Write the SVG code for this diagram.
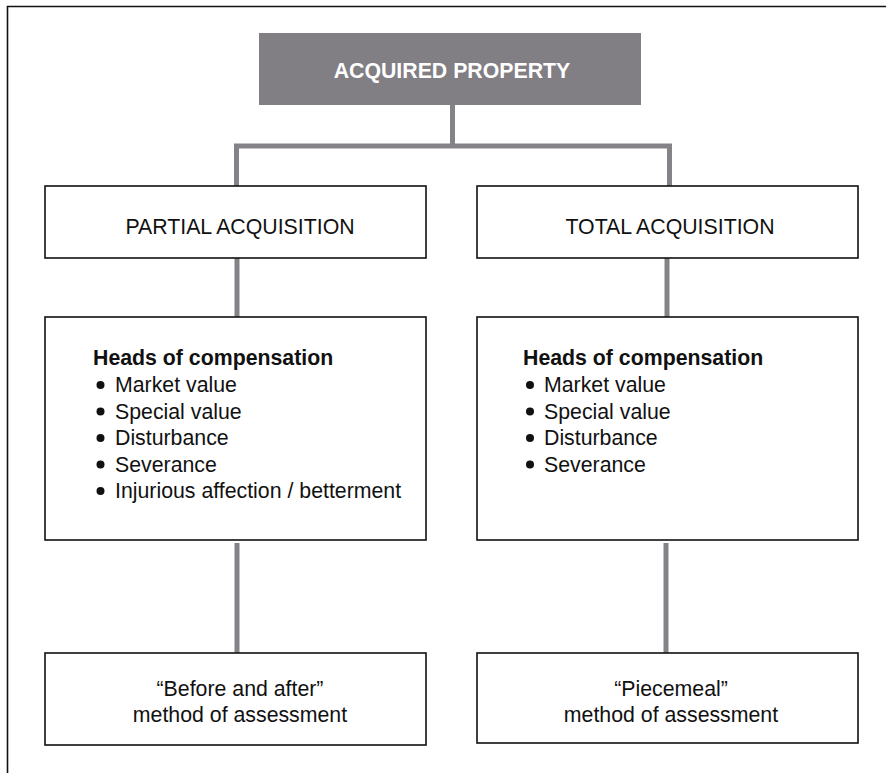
<svg xmlns="http://www.w3.org/2000/svg" width="886" height="773" viewBox="0 0 886 773">
<style>
.box{fill:#fff;stroke:#111;stroke-width:1.6}
.conn{stroke:#858388;stroke-width:5;fill:none}
.t{font-family:"Liberation Sans",Arial,sans-serif;font-size:21.3px;fill:#111}
.c{text-anchor:middle}
.b{font-weight:bold}
.dot{fill:#111}
</style>
<rect width="886" height="773" fill="#fff"/>
<path d="M7.5 773 V6.5 H886" fill="none" stroke="#111" stroke-width="1.6"/>
<g id="connectors">
<path class="conn" d="M452.5 105 V146 M236.5 146 H669.5 M236.5 143.5 V186 M669.5 143.5 V186"/>
<path class="conn" d="M237 258 V317 M667 258 V317"/>
<path class="conn" d="M237 543 V653 M666 543 V653"/>
</g>
<g id="acquired">
<rect x="259" y="33" width="382" height="72" fill="#817e84"/>
<text class="t b c" x="452" y="78" style="fill:#fff">ACQUIRED PROPERTY</text>
</g>
<g id="partial">
<rect class="box" x="45" y="186" width="381" height="72"/>
<text class="t c" x="240" y="234">PARTIAL ACQUISITION</text>
</g>
<g id="total">
<rect class="box" x="477" y="186" width="381" height="72"/>
<text class="t c" x="670" y="234">TOTAL ACQUISITION</text>
</g>
<g id="heads-partial">
<rect class="box" x="45" y="317" width="381" height="223"/>
<text class="t b" x="93" y="365">Heads of compensation</text>
<circle class="dot" cx="100.5" cy="385" r="4"/><text class="t" x="115" y="392">Market value</text>
<circle class="dot" cx="100.5" cy="411.5" r="4"/><text class="t" x="115" y="418.5">Special value</text>
<circle class="dot" cx="100.5" cy="438" r="4"/><text class="t" x="115" y="445">Disturbance</text>
<circle class="dot" cx="100.5" cy="464.5" r="4"/><text class="t" x="115" y="471.5">Severance</text>
<circle class="dot" cx="100.5" cy="491" r="4"/><text class="t" x="115" y="498">Injurious affection / betterment</text>
</g>
<g id="heads-total">
<rect class="box" x="477" y="317" width="381" height="223"/>
<text class="t b" x="523" y="365">Heads of compensation</text>
<circle class="dot" cx="530" cy="385" r="4"/><text class="t" x="544" y="392">Market value</text>
<circle class="dot" cx="530" cy="411.5" r="4"/><text class="t" x="544" y="418.5">Special value</text>
<circle class="dot" cx="530" cy="438" r="4"/><text class="t" x="544" y="445">Disturbance</text>
<circle class="dot" cx="530" cy="464.5" r="4"/><text class="t" x="544" y="471.5">Severance</text>
</g>
<g id="before-after">
<rect class="box" x="45" y="653" width="381" height="92"/>
<text class="t c" x="240" y="696">“Before and after”</text>
<text class="t c" x="240" y="722">method of assessment</text>
</g>
<g id="piecemeal">
<rect class="box" x="477" y="653" width="381" height="90"/>
<text class="t c" x="671" y="696">“Piecemeal”</text>
<text class="t c" x="671" y="722">method of assessment</text>
</g>
</svg>
